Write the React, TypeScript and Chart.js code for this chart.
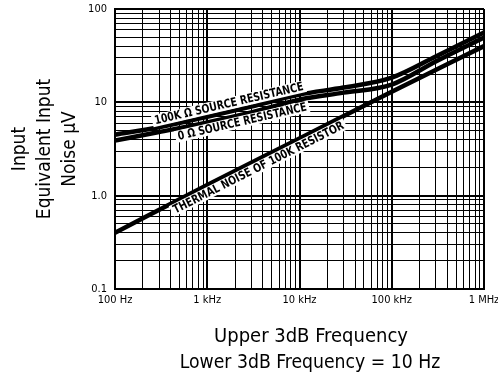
import React, { useEffect, useRef } from "react";
import { Chart, registerables } from "chart.js";

Chart.register(...registerables);

const FONT = '"Liberation Sans Narrow", "DejaVu Sans Condensed", "Liberation Sans", Arial, sans-serif';

// Series
const freqs = [100, 300, 1000, 3000, 10000, 30000, 100000, 300000, 1000000];
const noise100kSource = [4.5, 5.4, 7.0, 9.0, 12.1, 14.4, 18.4, 31, 56];
const noise0Source = [3.9, 4.8, 6.1, 7.8, 10.7, 12.7, 15.5, 27.4, 49.5];
const thermalFreqs = [100, 1000, 10000, 100000, 1000000];
const thermalNoise = [0.4, 1.3, 4.1, 13, 40];

// Axis ticks
const xDecades = [100, 1000, 10000, 100000];
const yDecades = [0.1, 1, 10];
const multipliers = [1, 2, 3, 4, 5, 6, 7, 8, 9];
const xLabelValues = [100, 1000, 10000, 100000, 1000000];
const xLabelTexts = ["100 Hz", "1 kHz", "10 kHz", "100 kHz", "1 MHz"];
const yLabelValues = [0.1, 1, 10, 100];
const yLabelTexts = ["0.1", "1.0", "10", "100"];

// Curve annotations
const annotationTexts = ["100K Ω SOURCE RESISTANCE", "0 Ω SOURCE RESISTANCE", "THERMAL NOISE OF 100K RESISTOR"];
const annotationFreqs = [1800, 2300, 3300];
const annotationSeries = [0, 1, 2];
const annotationOffsets = [-8, 7, 7.5];

const xTitleLines = ["Upper 3dB Frequency", "Lower 3dB Frequency = 10 Hz"];
const yTitleLines = ["Input", "Equivalent Input", "Noise μV"];

const xTickValues = [...xDecades.flatMap((d) => multipliers.map((m) => d * m)), 1000000];
const yTickValues = [...yDecades.flatMap((d) => multipliers.map((m) => +(d * m).toPrecision(6))), 100];

const same = (a: number, b: number) => Math.abs(Math.log10(a) - Math.log10(b)) < 1e-6;
const isDecade = (v: number) => {
  const l = Math.log10(v);
  return Math.abs(l - Math.round(l)) < 1e-6;
};

const seriesX = [freqs, freqs, thermalFreqs];
const seriesY = [noise100kSource, noise0Source, thermalNoise];

function logInterp(xs: number[], ys: number[], f: number) {
  const lf = Math.log10(f);
  for (let i = 0; i < xs.length - 1; i++) {
    const a = Math.log10(xs[i]);
    const b = Math.log10(xs[i + 1]);
    if (lf >= a && lf <= b) {
      const t = (lf - a) / (b - a);
      return Math.pow(10, Math.log10(ys[i]) + t * (Math.log10(ys[i + 1]) - Math.log10(ys[i])));
    }
  }
  return ys[ys.length - 1];
}

const annotationPlugin = {
  id: "curveLabels",
  afterDatasetsDraw(chart: any) {
    const ctx = chart.ctx;
    const xs = chart.scales.x;
    const ys = chart.scales.y;
    ctx.save();
    ctx.font = `bold 12px ${FONT}`;
    annotationTexts.forEach((text, i) => {
      const s = annotationSeries[i];
      const f = annotationFreqs[i];
      const px = xs.getPixelForValue(f);
      const py = ys.getPixelForValue(logInterp(seriesX[s], seriesY[s], f));
      const f1 = f / 1.4;
      const f2 = f * 1.4;
      const x1 = xs.getPixelForValue(f1);
      const y1 = ys.getPixelForValue(logInterp(seriesX[s], seriesY[s], f1));
      const x2 = xs.getPixelForValue(f2);
      const y2 = ys.getPixelForValue(logInterp(seriesX[s], seriesY[s], f2));
      const ang = Math.atan2(y2 - y1, x2 - x1);
      ctx.save();
      ctx.translate(px, py);
      ctx.rotate(ang);
      ctx.translate(0, annotationOffsets[i]);
      ctx.scale(0.87, 1);
      const w = ctx.measureText(text).width;
      ctx.fillStyle = "#fff";
      ctx.fillRect(-w / 2 - 3, -6, w + 6, 12);
      ctx.fillStyle = "#000";
      ctx.textAlign = "center";
      ctx.textBaseline = "middle";
      ctx.fillText(text, 0, 0.5);
      ctx.restore();
    });
    ctx.restore();
  },
  afterDraw(chart: any) {
    const ctx = chart.ctx;
    ctx.save();
    ctx.font = `20px ${FONT}`;
    ctx.fillStyle = "#000";
    ctx.textAlign = "center";
    ctx.textBaseline = "middle";
    ctx.fillText(xTitleLines[0], 311, 337);
    ctx.save();
    ctx.translate(310, 363);
    ctx.scale(0.96, 1);
    ctx.fillText(xTitleLines[1], 0, 0);
    ctx.restore();
    ctx.restore();
  },
};

export default function App() {
  const ref = useRef<HTMLCanvasElement | null>(null);
  useEffect(() => {
    document.body.style.margin = "0";
    const canvas = ref.current;
    if (!canvas) return;
    const line = (data: number[], xsv: number[]) => ({
      data: xsv.map((x, i) => ({ x, y: data[i] })),
      borderColor: "#000",
      backgroundColor: "#000",
      borderWidth: 4.5,
      pointRadius: 0,
      cubicInterpolationMode: "monotone" as const,
      fill: false,
      clip: 0,
    });
    const chart = new Chart(canvas, {
      type: "line",
      data: {
        datasets: [
          { label: "100K Ω source resistance", ...line(noise100kSource, freqs) },
          { label: "0 Ω source resistance", ...line(noise0Source, freqs) },
          { label: "Thermal noise of 100K resistor", ...line(thermalNoise, thermalFreqs) },
        ],
      },
      options: {
        animation: false,
        responsive: false,
        devicePixelRatio: 1,
        layout: { padding: { left: 0, top: 9, right: 14, bottom: 0 } },
        plugins: { legend: { display: false }, tooltip: { enabled: false } },
        scales: {
          x: {
            type: "logarithmic",
            min: 100,
            max: 1000000,
            afterBuildTicks: (s: any) => {
              s.ticks = xTickValues.map((v) => ({ value: v }));
            },
            afterFit: (s: any) => {
              s.height = 94;
              s.paddingLeft = 0;
              s.paddingRight = 0;
            },
            ticks: {
              autoSkip: false,
              maxRotation: 0,
              minRotation: 0,
              padding: 5,
              color: "#000",
              font: { family: FONT, size: 11 },
              callback: (v: any) => {
                const idx = xLabelValues.findIndex((lv) => same(lv, Number(v)));
                return idx >= 0 ? xLabelTexts[idx] : "";
              },
            },
            grid: {
              color: "#000",
              drawTicks: false,
              lineWidth: (c: any) => (c.tick && isDecade(c.tick.value) ? 2 : 1),
            },
            border: { display: true, color: "#000", width: 2 },
          },
          y: {
            type: "logarithmic",
            min: 0.1,
            max: 100,
            afterBuildTicks: (s: any) => {
              s.ticks = yTickValues.map((v) => ({ value: v }));
            },
            afterFit: (s: any) => {
              s.width = 115;
              s.paddingTop = 0;
              s.paddingBottom = 0;
            },
            ticks: {
              autoSkip: false,
              padding: 8,
              color: "#000",
              font: { family: FONT, size: 11 },
              callback: (v: any) => {
                const idx = yLabelValues.findIndex((lv) => same(lv, Number(v)));
                return idx >= 0 ? yLabelTexts[idx] : "";
              },
            },
            grid: {
              color: "#000",
              drawTicks: false,
              lineWidth: (c: any) => (c.tick && isDecade(c.tick.value) ? 2 : 1),
            },
            border: { display: true, color: "#000", width: 2 },
            title: {
              display: true,
              text: yTitleLines,
              color: "#000",
              font: { family: FONT, size: 19, lineHeight: 25 / 19 },
              padding: { top: 7.5, bottom: 0 },
            },
          },
        },
      },
      plugins: [annotationPlugin],
    });
    return () => chart.destroy();
  }, []);
  return (
    <div style={{ width: 498, height: 383 }}>
      <canvas ref={ref} width={498} height={383} style={{ display: "block" }} />
    </div>
  );
}
